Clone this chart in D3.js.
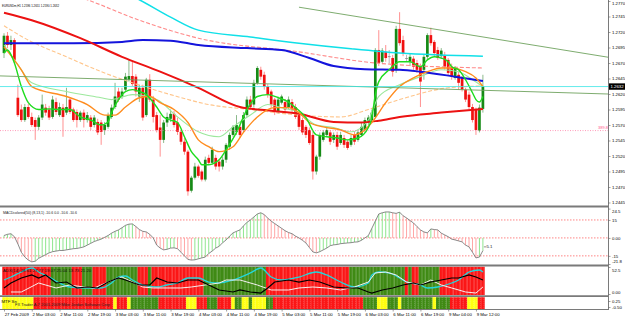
<!DOCTYPE html>
<html>
<head>
<meta charset="utf-8">
<script src="https://cdn.jsdelivr.net/npm/d3@7/dist/d3.min.js"></script>
<style>
  html, body { margin: 0; padding: 0; background: #fff; }
  svg { display: block; font-family: "Liberation Sans", Arial, sans-serif; }
  .axis text { font-size: 4.3px; fill: #000; }
  .axis line { stroke: #606060; stroke-width: 0.6; }
  .axis path { display: none; }
</style>
</head>
<body>
<svg id="chart" width="625" height="316"></svg>
<script>
'use strict';

// ---- data ----
var title = 'EURUSDm,H1  1.2596 1.2651 1.2590 1.2632';

var timeIdx = [0, 8, 16, 24, 32, 40, 48, 56, 64, 72, 80, 88, 96, 104, 112, 120, 128, 136];
var timeLabels = ['27 Feb 2009', '2 Mar 03:00', '2 Mar 11:00', '2 Mar 19:00', '3 Mar 03:00', '3 Mar 11:00',
  '3 Mar 19:00', '4 Mar 03:00', '4 Mar 11:00', '4 Mar 19:00', '5 Mar 03:00', '5 Mar 11:00',
  '5 Mar 19:00', '6 Mar 03:00', '6 Mar 11:00', '6 Mar 19:00', '9 Mar 04:00', '9 Mar 12:00'];

var priceTicks = [1.2770, 1.2745, 1.2720, 1.2695, 1.2670, 1.2645, 1.2620, 1.2595, 1.2570, 1.2545, 1.2520, 1.2495, 1.2470, 1.2445];

// open, high, low, close  (H1 bars)
var candles = [
  [1.2686,1.2718,1.2678,1.2714],[1.2714,1.2720,1.2694,1.2699],[1.2699,1.2714,1.2691,1.2707],[1.2707,1.2710,1.2670,1.2675],
  [1.2614,1.2635,1.2583,1.2586],[1.2595,1.2603,1.2575,1.2578],[1.2578,1.2604,1.2575,1.2599],[1.2599,1.2604,1.2580,1.2583],
  [1.2583,1.2590,1.2567,1.2570],[1.2578,1.2582,1.2546,1.2567],[1.2567,1.2586,1.2562,1.2582],[1.2582,1.2619,1.2578,1.2603],
  [1.2598,1.2604,1.2585,1.2590],[1.2595,1.2601,1.2578,1.2582],[1.2583,1.2617,1.2580,1.2611],[1.2607,1.2614,1.2586,1.2591],
  [1.2586,1.2606,1.2583,1.2599],[1.2598,1.2604,1.2551,1.2583],[1.2590,1.2630,1.2586,1.2599],[1.2611,1.2614,1.2588,1.2591],
  [1.2595,1.2598,1.2575,1.2578],[1.2591,1.2595,1.2566,1.2578],[1.2578,1.2593,1.2575,1.2590],[1.2590,1.2595,1.2566,1.2578],
  [1.2578,1.2591,1.2574,1.2586],[1.2582,1.2586,1.2562,1.2567],[1.2570,1.2586,1.2566,1.2582],[1.2575,1.2580,1.2554,1.2558],
  [1.2574,1.2578,1.2538,1.2559],[1.2562,1.2575,1.2554,1.2570],[1.2567,1.2590,1.2564,1.2586],[1.2583,1.2603,1.2580,1.2598],
  [1.2599,1.2638,1.2596,1.2616],[1.2624,1.2630,1.2607,1.2611],[1.2616,1.2630,1.2612,1.2624],[1.2627,1.2654,1.2624,1.2648],
  [1.2643,1.2675,1.2640,1.2649],[1.2649,1.2672,1.2633,1.2636],[1.2648,1.2652,1.2616,1.2624],[1.2616,1.2635,1.2607,1.2630],
  [1.2630,1.2635,1.2577,1.2582],[1.2586,1.2646,1.2583,1.2643],[1.2643,1.2652,1.2607,1.2611],[1.2611,1.2617,1.2574,1.2583],
  [1.2586,1.2591,1.2558,1.2562],[1.2566,1.2586,1.2519,1.2546],[1.2546,1.2578,1.2541,1.2574],[1.2574,1.2590,1.2567,1.2583],
  [1.2580,1.2595,1.2575,1.2588],[1.2588,1.2593,1.2566,1.2570],[1.2574,1.2582,1.2554,1.2559],[1.2559,1.2562,1.2538,1.2543],
  [1.2543,1.2549,1.2522,1.2527],[1.2527,1.2530,1.2456,1.2463],[1.2464,1.2488,1.2461,1.2485],[1.2485,1.2509,1.2482,1.2503],
  [1.2503,1.2506,1.2485,1.2488],[1.2495,1.2498,1.2479,1.2482],[1.2482,1.2519,1.2479,1.2514],[1.2517,1.2522,1.2506,1.2509],
  [1.2509,1.2535,1.2506,1.2530],[1.2517,1.2522,1.2498,1.2503],[1.2511,1.2514,1.2495,1.2503],[1.2503,1.2519,1.2498,1.2514],
  [1.2514,1.2541,1.2509,1.2538],[1.2535,1.2558,1.2530,1.2554],[1.2554,1.2570,1.2551,1.2567],[1.2559,1.2586,1.2554,1.2570],
  [1.2567,1.2570,1.2549,1.2554],[1.2562,1.2591,1.2558,1.2586],[1.2586,1.2616,1.2583,1.2611],[1.2611,1.2617,1.2595,1.2599],
  [1.2603,1.2643,1.2598,1.2638],[1.2638,1.2665,1.2635,1.2662],[1.2659,1.2664,1.2643,1.2648],[1.2651,1.2656,1.2627,1.2632],
  [1.2632,1.2636,1.2614,1.2619],[1.2624,1.2627,1.2598,1.2603],[1.2611,1.2614,1.2586,1.2591],[1.2591,1.2616,1.2588,1.2611],
  [1.2606,1.2619,1.2603,1.2616],[1.2607,1.2612,1.2591,1.2595],[1.2599,1.2616,1.2596,1.2611],[1.2607,1.2612,1.2590,1.2595],
  [1.2599,1.2604,1.2580,1.2583],[1.2586,1.2591,1.2562,1.2567],[1.2578,1.2582,1.2554,1.2558],[1.2567,1.2570,1.2549,1.2554],
  [1.2562,1.2566,1.2538,1.2541],[1.2554,1.2559,1.2482,1.2495],[1.2495,1.2522,1.2490,1.2519],[1.2519,1.2558,1.2514,1.2554],
  [1.2546,1.2562,1.2543,1.2558],[1.2554,1.2567,1.2551,1.2562],[1.2558,1.2562,1.2538,1.2543],[1.2546,1.2558,1.2541,1.2554],
  [1.2554,1.2559,1.2530,1.2535],[1.2541,1.2559,1.2538,1.2554],[1.2549,1.2554,1.2533,1.2538],[1.2543,1.2546,1.2530,1.2533],
  [1.2538,1.2554,1.2535,1.2549],[1.2554,1.2559,1.2538,1.2543],[1.2546,1.2562,1.2543,1.2558],[1.2554,1.2574,1.2551,1.2567],
  [1.2562,1.2582,1.2558,1.2578],[1.2574,1.2586,1.2570,1.2582],[1.2578,1.2595,1.2575,1.2590],[1.2583,1.2694,1.2582,1.2691],
  [1.2691,1.2723,1.2665,1.2670],[1.2672,1.2694,1.2669,1.2690],[1.2688,1.2699,1.2672,1.2678],[1.2680,1.2691,1.2669,1.2681],
  [1.2678,1.2683,1.2648,1.2656],[1.2659,1.2730,1.2654,1.2725],[1.2725,1.2752,1.2698,1.2702],[1.2707,1.2714,1.2681,1.2686],
  [1.2678,1.2683,1.2673,1.2677],[1.2672,1.2686,1.2665,1.2680],[1.2677,1.2681,1.2659,1.2664],[1.2670,1.2675,1.2654,1.2659],
  [1.2664,1.2669,1.2599,1.2640],[1.2659,1.2683,1.2643,1.2680],[1.2680,1.2718,1.2675,1.2715],[1.2715,1.2727,1.2698,1.2702],
  [1.2704,1.2707,1.2681,1.2686],[1.2691,1.2696,1.2675,1.2678],[1.2681,1.2694,1.2677,1.2690],[1.2683,1.2688,1.2659,1.2664],
  [1.2675,1.2678,1.2649,1.2654],[1.2664,1.2669,1.2643,1.2648],[1.2646,1.2665,1.2643,1.2662],[1.2651,1.2656,1.2627,1.2638],
  [1.2646,1.2649,1.2624,1.2627],[1.2627,1.2630,1.2607,1.2611],[1.2619,1.2624,1.2595,1.2599],[1.2599,1.2604,1.2574,1.2578],
  [1.2595,1.2598,1.2554,1.2562],[1.2561,1.2603,1.2558,1.2598],[1.2596,1.2651,1.2590,1.2632]
];

// moving averages, sampled as [bar, price]
var maCyan = [[0,1.2868],[20,1.2817],[39,1.2772],[48,1.2744],[56,1.2723],[71,1.2712],[85,1.2702],[100,1.2693],[114,1.2686],[138,1.2681]];
var maPinkDash = [[0,1.2812],[24,1.2772],[39,1.2739],[56,1.2710],[85,1.2688],[107,1.2670],[138,1.2662]];
var maBlue = [[0,1.2702],[20,1.2702],[34,1.2704],[40,1.2707],[48,1.2706],[56,1.2699],[70,1.2694],[80,1.2691],[88,1.2678],
  [95,1.2665],[104,1.2660],[114,1.2659],[120,1.2656],[130,1.2648],[138,1.2641]];
var maRed = [[0,1.2751],[8,1.2739],[22,1.2710],[34,1.2680],[45,1.2656],[56,1.2630],[68,1.2599],[77,1.2593],[85,1.2588],
  [95,1.2575],[103,1.2574],[108,1.2577],[114,1.2583],[126,1.2590],[138,1.2596]];
var maSandDash = [[0,1.2730],[7,1.2707],[18,1.2680],[28,1.2656],[37,1.2638],[48,1.2619],[59,1.2603],[71,1.2595],[85,1.2586],
  [97,1.2583],[105,1.2595],[114,1.2611],[128,1.2630],[138,1.2633]];
var maOrange = [[0,1.2696],[5,1.2659],[8,1.2632],[18,1.2616],[24,1.2603],[29,1.2586],[32,1.2586],[35,1.2599],[39,1.2614],
  [42,1.2616],[45,1.2606],[49,1.2595],[53,1.2574],[56,1.2546],[59,1.2535],[62,1.2527],[66,1.2535],[69,1.2558],[73,1.2583],
  [78,1.2598],[82,1.2598],[85,1.2590],[88,1.2574],[92,1.2567],[97,1.2562],[101,1.2554],[103,1.2558],[106,1.2574],[110,1.2606],
  [114,1.2632],[118,1.2646],[122,1.2656],[126,1.2662],[129,1.2662],[133,1.2656],[136,1.2646],[138,1.2632]];
var maGreen = [[0,1.2686],[1,1.2691],[3,1.2670],[5,1.2632],[7,1.2606],[10,1.2595],[13,1.2596],[16,1.2595],[19,1.2595],
  [22,1.2583],[25,1.2578],[28,1.2570],[30,1.2575],[31,1.2590],[33,1.2611],[35,1.2624],[37,1.2627],[39,1.2624],[41,1.2619],
  [44,1.2599],[46,1.2583],[48,1.2578],[50,1.2574],[52,1.2551],[54,1.2527],[56,1.2514],[57,1.2506],[59,1.2506],[62,1.2514],
  [64,1.2530],[67,1.2558],[70,1.2595],[73,1.2616],[76,1.2619],[79,1.2614],[82,1.2607],[84,1.2598],[87,1.2582],[90,1.2554],
  [93,1.2551],[96,1.2549],[99,1.2546],[102,1.2549],[105,1.2566],[106,1.2582],[107,1.2619],[108,1.2640],[111,1.2659],
  [114,1.2672],[117,1.2672],[120,1.2664],[122,1.2675],[124,1.2680],[126,1.2678],[128,1.2672],[129,1.2664],[131,1.2659],
  [133,1.2643],[135,1.2622],[136,1.2611],[137,1.2607],[138,1.2616]];
var maLightGreen = [[0,1.2699],[4,1.2667],[8,1.2638],[18,1.2624],[28,1.2614],[31,1.2611],[37,1.2619],[44,1.2611],[50,1.2583],
  [56,1.2559],[62,1.2551],[66,1.2567],[71,1.2586],[76,1.2603],[80,1.2598],[85,1.2590],[90,1.2570],[95,1.2566],[100,1.2559],
  [105,1.2578],[108,1.2616],[114,1.2635],[120,1.2648],[126,1.2659],[131,1.2656],[135,1.2643],[138,1.2632]];

// chart objects
var trendUpper = [[85, 1.2760], [138, 1.2712]];
var trendLower = [[0, 1.2649], [138, 1.2626]];
var bidPrice = 1.2632;
var pinkLevel = 1.2561, pinkLabel = '389.8';

// MACDcolored (8,13,1)
var macdTitle = 'MACDcolored(50) (8,13,1) -10.6 0.0 -10.6 -10.6';
var macdTicks = [24.5, 15, 0, -15, -21.8];
var macdLevels = [15, 0, -15];
var macd = [2,3,3.5,1,-5,-12,-16,-18.5,-20,-19.5,
  -17,-15.5,-14,-12.5,-11.5,-11,-10.5,-10.5,-10,-9.5,
  -9,-8.8,-8.2,-7.5,-6,-4.5,-3,-2,-1,0.5,
  2,4,5.5,6.7,8.5,10.5,11.5,11.7,9.5,7,
  5.5,5,3,0,-6,-8.5,-10,-9.5,-8.5,-8.3,
  -9,-12,-15,-18,-18.5,-18.3,-17.5,-16.7,-16,-13,
  -11,-8.5,-7,-4,-1.7,1.5,4.2,5.5,6.7,10,
  13,15,17.5,20,21,19.5,16.5,14,12,10,
  8,6,4.5,3.5,1.5,0,-2,-4.2,-8,-11.7,
  -12.5,-11.5,-10,-8.5,-6.5,-5.8,-5.5,-4.8,-4.5,-4.2,
  -4,-3.5,-3.3,-2,0,2,8,14,20,21,
  21.7,21.7,21,20.5,21.5,18.5,16.7,14.5,12.5,9.5,
  6.7,5,4.2,7.5,7,6.7,4,2.5,1,-1,
  -1.7,-2.5,-3.3,-6,-7.5,-12,-16.7,-16,-10.6];

// ADX panel
var adxTitle = 'ADX(14) 18.61 27.77 19.07 25.04 13.73 21.20';
var adxTicks = [52.5, 0];
var adxRuns = [['r',14],['g',6],['r',3],['g',3],['r',4],['g',9],['r',3],['g',1],['r',15],['g',18],['r',24],['g',16],
  ['r',1],['g',1],['r',2],['g',6],['r',13]];
var adxCyan = [[0,27.2],[2,33],[5,42.8],[8,50.6],[10,42.8],[13,33],[16,21.4],[19,13.6],[24,11.7],[28,11.7],[31,21.4],[33,33],
  [35,35],[37,27.2],[40,17.5],[44,13.6],[47,17.5],[50,21.4],[53,31.1],[56,31.1],[59,23.3],[62,21.4],[66,27.2],[71,40.9],
  [74,50.6],[77,33],[80,27.2],[85,33],[90,42.8],[93,37],[97,23.3],[101,13.6],[105,21.4],[106,37],[108,42.8],[111,40.9],
  [114,31.1],[116,23.3],[120,17.5],[122,11.7],[125,13.6],[129,21.4],[131,27.2],[134,42.8],[137,46.7],[138,42.8]];
var adxBlack = [[0,11.7],[2,21.4],[5,31.1],[8,37],[10,31.1],[12,37],[15,21.4],[18,23.3],[21,11.7],[24,13.6],[27,11.7],[30,23.3],
  [33,31.1],[35,27.2],[39,17.5],[42,17.5],[44,31.1],[47,23.3],[50,21.4],[53,27.2],[56,27.2],[59,17.5],[62,7.8],[66,3.9],
  [68,7.8],[71,3.9],[74,1.9],[76,11.7],[78,23.3],[82,27.2],[85,23.3],[88,27.2],[91,23.3],[95,13.6],[99,11.7],[102,11.7],
  [105,3.9],[106,1.9],[109,7.8],[112,11.7],[115,17.5],[118,21.4],[120,17.5],[123,23.3],[126,27.2],[129,31.1],[131,31.1],
  [134,37],[136,33],[138,27.2]];
var adxWhite = [[2,3.9],[5,3.9],[10,21.4],[12,17.5],[15,11.7],[19,17.5],[23,13.6],[26,11.7],[30,23.3],[33,31.1],[34,33],
  [37,23.3],[40,13.6],[43,11.7],[47,11.7],[51,11.7],[54,13.6],[58,17.5],[62,21.4],[64,27.2],[68,27.2],[73,17.5],[77,7.8],
  [82,7.8],[85,11.7],[89,13.6],[93,11.7],[97,7.8],[101,13.6],[105,23.3],[107,40.9],[110,42.8],[113,37],[116,23.3],
  [120,17.5],[123,27.2],[126,17.5],[129,11.7],[133,3.9],[136,1.9],[138,13.6]];

// trend strip panel
var stripRuns = [['y',9],['r',23],['y',1],['r',3],['y',1],['g',8],['r',8],['y',3],['r',3],['g',3],['r',4],['y',1],['g',2],
  ['y',2],['g',1],['y',4],['g',2],['r',26],['g',4],['y',3],['g',3],['y',1],['g',9],['y',1],['g',4],['r',5],['y',3],['r',2]];
var stripTicks = [0.25, -0.5];
var stripText = 'FX Trader A.7 2001-2009 Mike Jordan Software Corp';

// ---- drawing ----
var svg = d3.select('#chart');
var AX = 608.5;               // right scale line

var x = d3.scaleLinear().domain([0, 138]).range([4, 482.9]);
var y = d3.scaleLinear().domain([1.2445, 1.2770]).range([202.5, 1]);
var yMacd = d3.scaleLinear().domain([-21.8, 24.5]).range([264, 208.6]);
var yAdx = d3.scaleLinear().domain([0, 52.5]).range([294, 267]);
var yStrip = d3.scaleLinear().domain([-0.75, 0.75]).range([309, 297]);
var step = x(1) - x(0);
var bodyW = 2.7;

var defs = svg.append('defs');
function clip(id, y0, y1) {
  defs.append('clipPath').attr('id', id).append('rect')
    .attr('x', 0).attr('y', y0).attr('width', AX).attr('height', y1 - y0);
}
clip('clipMain', 0, 205.5);
clip('clipMacd', 207.5, 264.5);
clip('clipAdx', 266.5, 295);

function expand(runs) {
  var out = [];
  runs.forEach(function(r) { for (var k = 0; k < r[1]; k++) out.push(r[0]); });
  return out;
}

// --- main panel ---
var main = svg.append('g').attr('clip-path', 'url(#clipMain)');

var bars = main.selectAll('.candle')
  .data(candles)
  .enter().append('g')
  .attr('class', 'candle');

function candleKind(d) {
  if (Math.abs(d[3] - d[0]) < 0.00015) return 'flat';
  return d[3] > d[0] ? 'up' : 'down';
}
var bodyCol = { up: '#168a16', down: '#f01010', flat: '#8c8c8c' };
var wickCol = { up: '#8cba8c', down: '#ff9090', flat: '#b8b8b8' };

bars.append('line')
  .attr('x1', function(d, i) { return x(i); })
  .attr('x2', function(d, i) { return x(i); })
  .attr('y1', function(d) { return y(d[1]); })
  .attr('y2', function(d) { return y(d[2]); })
  .attr('stroke', function(d) { return wickCol[candleKind(d)]; })
  .attr('stroke-width', 1);

bars.append('rect')
  .attr('x', function(d, i) { return x(i) - bodyW / 2; })
  .attr('width', bodyW)
  .attr('y', function(d) { return y(Math.max(d[0], d[3])); })
  .attr('height', function(d) { return Math.max(y(Math.min(d[0], d[3])) - y(Math.max(d[0], d[3])), 0.9); })
  .attr('fill', function(d) { return bodyCol[candleKind(d)]; });

var maLine = d3.line()
  .x(function(d) { return x(d[0]); })
  .y(function(d) { return y(d[1]); })
  .curve(d3.curveMonotoneX);

var maStyles = [
  { data: maSandDash, color: '#ffc58a', width: 1.1, dash: '4,2' },
  { data: maPinkDash, color: '#ff8a8a', width: 1.1, dash: '4,2' },
  { data: maLightGreen, color: '#9ce89c', width: 1.1 },
  { data: maCyan, color: '#10e0e8', width: 1.5 },
  { data: maBlue, color: '#1414dc', width: 2 },
  { data: maRed, color: '#ec1212', width: 2 },
  { data: maOrange, color: '#ff8c1e', width: 1.4 },
  { data: maGreen, color: '#1edc1e', width: 1.4 }
];
maStyles.forEach(function(s) {
  main.append('path')
    .attr('d', maLine(s.data))
    .attr('fill', 'none')
    .attr('stroke', s.color)
    .attr('stroke-width', s.width)
    .attr('stroke-dasharray', s.dash || null);
});

// trend lines, extended as rays to the scale line
function ray(pts, color) {
  var p = d3.scaleLinear().domain([pts[0][0], pts[1][0]]).range([pts[0][1], pts[1][1]]);
  var iStart = pts[0][0] === 0 ? x.invert(0) : pts[0][0];
  var iEnd = x.invert(AX);
  main.append('line')
    .attr('x1', x(iStart)).attr('y1', y(p(iStart)))
    .attr('x2', AX).attr('y2', y(p(iEnd)))
    .attr('stroke', color).attr('stroke-width', 0.9);
}
ray(trendUpper, '#6fa35f');
ray(trendLower, '#6fa35f');

main.append('line')
  .attr('x1', 0).attr('x2', AX).attr('y1', y(bidPrice)).attr('y2', y(bidPrice))
  .attr('stroke', '#3ee6e6').attr('stroke-width', 0.8);

main.append('line')
  .attr('x1', 0).attr('x2', AX).attr('y1', y(pinkLevel)).attr('y2', y(pinkLevel))
  .attr('stroke', '#ff80a8').attr('stroke-width', 0.8).attr('stroke-dasharray', '1,1.5');

main.append('text')
  .attr('x', 598).attr('y', y(pinkLevel) - 1.5)
  .attr('font-size', 4).attr('fill', '#ff5a8c')
  .text(pinkLabel);

svg.append('text')
  .attr('x', 2).attr('y', 6.5)
  .attr('font-size', 4.3).attr('fill', '#000')
  .attr('textLength', 57).attr('lengthAdjust', 'spacingAndGlyphs')
  .text(title);

// --- MACD panel ---
var macdG = svg.append('g').attr('clip-path', 'url(#clipMacd)');

macdG.selectAll('.lvl')
  .data(macdLevels)
  .enter().append('line')
  .attr('class', 'lvl')
  .attr('x1', 0).attr('x2', AX)
  .attr('y1', function(d) { return yMacd(d); })
  .attr('y2', function(d) { return yMacd(d); })
  .attr('stroke', '#ff5050').attr('stroke-width', 0.7).attr('stroke-dasharray', '1.5,1.5');

macdG.selectAll('.hist')
  .data(macd)
  .enter().append('line')
  .attr('class', 'hist')
  .attr('x1', function(d, i) { return x(i); })
  .attr('x2', function(d, i) { return x(i); })
  .attr('y1', yMacd(0))
  .attr('y2', function(d) { return yMacd(d); })
  .attr('stroke', function(d, i) { return (i > 0 && d >= macd[i - 1]) || i === 0 ? '#8fe68f' : '#ffa6a6'; })
  .attr('stroke-width', 1);

macdG.append('path')
  .attr('d', d3.line()
    .x(function(d, i) { return x(i); })
    .y(function(d) { return yMacd(d); })(macd))
  .attr('fill', 'none').attr('stroke', '#7c7c7c').attr('stroke-width', 0.9);

svg.append('text')
  .attr('x', 3).attr('y', 214)
  .attr('font-size', 4.3).attr('fill', '#222')
  .attr('textLength', 74).attr('lengthAdjust', 'spacingAndGlyphs')
  .text(macdTitle);

svg.append('line')
  .attr('x1', x(138) + 1).attr('x2', x(138) + 3.5)
  .attr('y1', yMacd(-7.5)).attr('y2', yMacd(-7.5))
  .attr('stroke', '#444').attr('stroke-width', 0.6);
svg.append('text')
  .attr('x', x(138) + 3.5).attr('y', yMacd(-7.5) + 1.5)
  .attr('font-size', 4.3).attr('fill', '#222')
  .text('5.1');

// --- ADX panel ---
var adxG = svg.append('g').attr('clip-path', 'url(#clipAdx)');
var adxCols = expand(adxRuns);
var colColor = { r: '#fb1616', g: '#3f8a14', y: '#ffff10' };

adxG.selectAll('.col')
  .data(adxCols)
  .enter().append('rect')
  .attr('class', 'col')
  .attr('x', function(d, i) { return x(i) - step / 2; })
  .attr('width', step + 0.1)
  .attr('y', 266.5).attr('height', 28.5)
  .attr('fill', function(d) { return colColor[d]; });

adxG.selectAll('.sep')
  .data(adxCols)
  .enter().append('line')
  .attr('class', 'sep')
  .attr('x1', function(d, i) { return x(i) + 1; })
  .attr('x2', function(d, i) { return x(i) + 1; })
  .attr('y1', 266.5).attr('y2', 295)
  .attr('stroke', 'rgba(255,255,255,0.45)').attr('stroke-width', 0.6).attr('stroke-dasharray', '1,1');

var adxLine = d3.line()
  .x(function(d) { return x(d[0]); })
  .y(function(d) { return yAdx(d[1]); });

adxG.append('path').attr('d', adxLine.curve(d3.curveMonotoneX)(adxCyan))
  .attr('fill', 'none').attr('stroke', '#22d8dc').attr('stroke-width', 1.3);
adxG.append('path').attr('d', adxLine.curve(d3.curveLinear)(adxWhite))
  .attr('fill', 'none').attr('stroke', '#f4f0f0').attr('stroke-width', 1);
adxG.append('path').attr('d', adxLine.curve(d3.curveLinear)(adxBlack))
  .attr('fill', 'none').attr('stroke', '#000').attr('stroke-width', 1.2);

svg.append('text')
  .attr('x', 3).attr('y', 272)
  .attr('font-size', 4.3).attr('fill', '#111')
  .text(adxTitle);

// --- trend strip panel ---
var stripCols = expand(stripRuns);
var stripG = svg.append('g');
stripG.selectAll('.scol')
  .data(stripCols)
  .enter().append('rect')
  .attr('class', 'scol')
  .attr('x', function(d, i) { return x(i) - step / 2; })
  .attr('width', step + 0.1)
  .attr('y', 297.2).attr('height', 11.8)
  .attr('fill', function(d) { return colColor[d]; });
stripG.selectAll('.ssep')
  .data(stripCols)
  .enter().append('line')
  .attr('class', 'ssep')
  .attr('x1', function(d, i) { return x(i) + 1; })
  .attr('x2', function(d, i) { return x(i) + 1; })
  .attr('y1', 297.2).attr('y2', 309)
  .attr('stroke', 'rgba(255,255,255,0.4)').attr('stroke-width', 0.6).attr('stroke-dasharray', '1,1');

svg.append('text')
  .attr('x', 1.5).attr('y', 302.5)
  .attr('font-size', 4.3).attr('fill', '#111')
  .text('MTF Sn');
svg.append('text')
  .attr('x', 15).attr('y', 306)
  .attr('font-size', 4.3).attr('fill', '#222')
  .attr('textLength', 95).attr('lengthAdjust', 'spacingAndGlyphs')
  .text(stripText);

// --- frame: separators and scale line ---
[[206.5, 2], [265.5, 2], [296.2, 1.8], [309.5, 1]].forEach(function(s) {
  svg.append('line')
    .attr('x1', 0).attr('x2', AX).attr('y1', s[0]).attr('y2', s[0])
    .attr('stroke', '#7a7a7a').attr('stroke-width', s[1]);
});
svg.append('line')
  .attr('x1', AX).attr('x2', AX).attr('y1', 0).attr('y2', 310)
  .attr('stroke', '#7a7a7a').attr('stroke-width', 1);

// --- axes ---
var fmtP = d3.format('.4f');
var gP = svg.append('g').attr('class', 'axis').attr('transform', 'translate(' + AX + ',0)')
  .call(d3.axisRight(y).tickValues(priceTicks).tickFormat(fmtP).tickSize(2).tickPadding(1.5));
gP.selectAll('text').filter(function(d) { return d === 1.2770; })
  .attr('transform', 'translate(0,2)');

var gM = svg.append('g').attr('class', 'axis').attr('transform', 'translate(' + AX + ',0)')
  .call(d3.axisRight(yMacd).tickValues(macdTicks)
    .tickFormat(function(d) { return d === 0 ? '0.00' : String(d); })
    .tickSize(2).tickPadding(1.5));
gM.selectAll('text').attr('transform', function(d) {
  return d === 24.5 ? 'translate(0,2.5)' : (d === -21.8 ? 'translate(0,-2.5)' : null);
});

var gA = svg.append('g').attr('class', 'axis').attr('transform', 'translate(' + AX + ',0)')
  .call(d3.axisRight(yAdx).tickValues(adxTicks)
    .tickFormat(function(d) { return d === 0 ? '0.00' : '52.5'; })
    .tickSize(2).tickPadding(1.5));
gA.selectAll('text').attr('transform', function(d) { return d === 0 ? 'translate(0,-2)' : 'translate(0,3)'; });

svg.append('g').attr('class', 'axis').attr('transform', 'translate(' + AX + ',0)')
  .call(d3.axisRight(yStrip).tickValues(stripTicks)
    .tickFormat(function(d) { return d.toFixed(2); })
    .tickSize(2).tickPadding(1.5));

// current bid box on the price scale
svg.append('rect')
  .attr('x', AX + 0.5).attr('y', y(bidPrice) - 3.2).attr('width', 16).attr('height', 6.4)
  .attr('fill', '#000');
svg.append('text')
  .attr('x', AX + 2).attr('y', y(bidPrice) + 1.5)
  .attr('font-size', 4.3).attr('fill', '#fff')
  .text(fmtP(bidPrice));

// time axis
var gT = svg.append('g').attr('class', 'axis').attr('transform', 'translate(0,309.5)')
  .call(d3.axisBottom(x).tickValues(timeIdx)
    .tickFormat(function(d, i) { return timeLabels[i]; })
    .tickSize(2).tickPadding(1));
gT.selectAll('text').attr('text-anchor', 'start').attr('dx', '0.2');
</script>
</body>
</html>
